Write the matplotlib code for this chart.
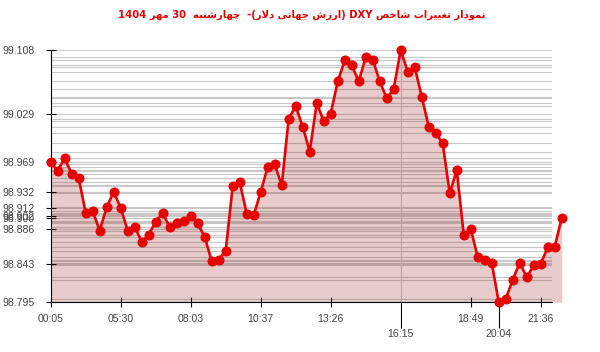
import re
import numpy as np
import matplotlib
matplotlib.use('Agg')
import matplotlib.pyplot as plt

title = 'نمودار تغییرات شاخص DXY (ارزش جهانی دلار)-  چهارشنبه  30 مهر 1404'

values = [98.969, 98.958, 98.974, 98.954, 98.949, 98.906, 98.908, 98.884, 98.913, 98.932,
          98.912, 98.884, 98.889, 98.870, 98.879, 98.895, 98.906, 98.888, 98.893, 98.896,
          98.902, 98.893, 98.876, 98.846, 98.848, 98.859, 98.939, 98.944, 98.905, 98.903,
          98.932, 98.963, 98.966, 98.940, 99.023, 99.038, 99.013, 98.982, 99.042, 99.020,
          99.029, 99.069, 99.095, 99.089, 99.069, 99.099, 99.096, 99.069, 99.048, 99.060,
          99.108, 99.081, 99.087, 99.050, 99.013, 99.005, 98.992, 98.930, 98.959, 98.879,
          98.886, 98.851, 98.848, 98.844, 98.795, 98.799, 98.823, 98.844, 98.826, 98.841,
          98.843, 98.863, 98.864, 98.900]

tick_idx = [0, 10, 20, 30, 40, 60, 70]
tick_times = ['00:05', '05:30', '08:03', '10:37', '13:26', '18:49', '21:36']
max_time = '16:15'
min_time = '20:04'

# contextual forms: isolated, final, initial, medial (None = does not join forward)
FORMS = {
    'ا': ('\uFE8D', '\uFE8E', None, None),
    'د': ('\uFEA9', '\uFEAA', None, None),
    'ر': ('\uFEAD', '\uFEAE', None, None),
    'ز': ('\uFEAF', '\uFEB0', None, None),
    'و': ('\uFEED', '\uFEEE', None, None),
    'ب': ('\uFE8F', '\uFE90', '\uFE91', '\uFE92'),
    'ت': ('\uFE95', '\uFE96', '\uFE97', '\uFE98'),
    'ج': ('\uFE9D', '\uFE9E', '\uFE9F', '\uFEA0'),
    'خ': ('\uFEA5', '\uFEA6', '\uFEA7', '\uFEA8'),
    'ش': ('\uFEB5', '\uFEB6', '\uFEB7', '\uFEB8'),
    'ص': ('\uFEB9', '\uFEBA', '\uFEBB', '\uFEBC'),
    'غ': ('\uFECD', '\uFECE', '\uFECF', '\uFED0'),
    'ل': ('\uFEDD', '\uFEDE', '\uFEDF', '\uFEE0'),
    'م': ('\uFEE1', '\uFEE2', '\uFEE3', '\uFEE4'),
    'ن': ('\uFEE5', '\uFEE6', '\uFEE7', '\uFEE8'),
    'ه': ('\uFEE9', '\uFEEA', '\uFEEB', '\uFEEC'),
    'ی': ('\uFBFC', '\uFBFD', '\uFBFE', '\uFBFF'),
    'چ': ('\uFB7A', '\uFB7B', '\uFB7C', '\uFB7D'),
}


def rtl(text):
    out = []
    i = 0
    while i < len(text):
        ch = text[i]
        if ch not in FORMS:
            out.append(ch)
            i += 1
            continue
        prev = text[i - 1] if i > 0 else ''
        nxt = text[i + 1] if i + 1 < len(text) else ''
        jp = prev in FORMS and FORMS[prev][2] is not None
        if ch == 'ل' and nxt == 'ا':
            out.append('\uFEFC' if jp else '\uFEFB')
            i += 2
            continue
        jn = nxt in FORMS and FORMS[ch][2] is not None
        iso, fin, ini, med = FORMS[ch]
        if jp and jn:
            out.append(med)
        elif jp:
            out.append(fin)
        elif jn:
            out.append(ini)
        else:
            out.append(iso)
        i += 1
    s = ''.join(out)[::-1]
    s = re.sub(r'[A-Za-z0-9]+', lambda m: m.group(0)[::-1], s)
    return s.translate(str.maketrans('()', ')('))


plt.rcParams['font.family'] = ['Liberation Sans', 'DejaVu Sans']

x = np.arange(len(values))
v = np.array(values)
imax = int(np.argmax(v))
imin = int(np.argmin(v))

fig = plt.figure(figsize=(6, 3.52), dpi=100)
ax = fig.add_axes([0.0845, 0.1412, 0.8354, 0.7168])

for val in np.unique(v):
    ax.axhline(val, color='#c8c8c8', lw=0.8, zorder=1)
ax.axvline(imax, color='#c8c8c8', lw=0.8, zorder=1)

ax.fill_between(x, v, v.min(), color=(0.6, 0.1, 0.1), alpha=0.22, lw=0,
                zorder=2, clip_on=False)
ax.plot(x, v, color='#e60000', lw=1.9, marker='o', ms=6.2, zorder=3, clip_on=False)

ax.set_xlim(0, 71.6)
ax.set_ylim(v.min(), v.max())

ax.set_xticks(tick_idx)
ax.set_xticklabels(tick_times)
ax.set_xticks([imax, imin], minor=True)
ax.set_xticklabels([max_time, min_time], minor=True)

yt = [values[i] for i in tick_idx] + [v.max(), v.min(), values[-1]]
ax.set_yticks(yt)
ax.set_yticklabels([f'{t:.3f}' for t in yt])

ax.tick_params(axis='both', which='major', direction='inout', length=7.2, width=0.8,
               labelsize=7.6, labelcolor='#444444')
ax.tick_params(axis='x', which='major', pad=5)
ax.tick_params(axis='y', which='major', pad=8)
ax.tick_params(axis='x', which='minor', direction='out', length=18.5, width=0.8,
               pad=1, labelsize=7.6, labelcolor='#444444')
mt = ax.xaxis.get_minor_ticks()
mt[0].tick1line.set_color('#c8c8c8')
mt[1].tick1line.set_color('black')

for s in ['top', 'right']:
    ax.spines[s].set_visible(False)
for s in ['left', 'bottom']:
    ax.spines[s].set_linewidth(0.8)

fig.text(0.503, 1 - 15 / 352, rtl(title), ha='center', va='center', color='#e00000',
         fontsize=7.2, fontweight='bold', family=['DejaVu Sans'])

fig.savefig('out.png', dpi=100)
